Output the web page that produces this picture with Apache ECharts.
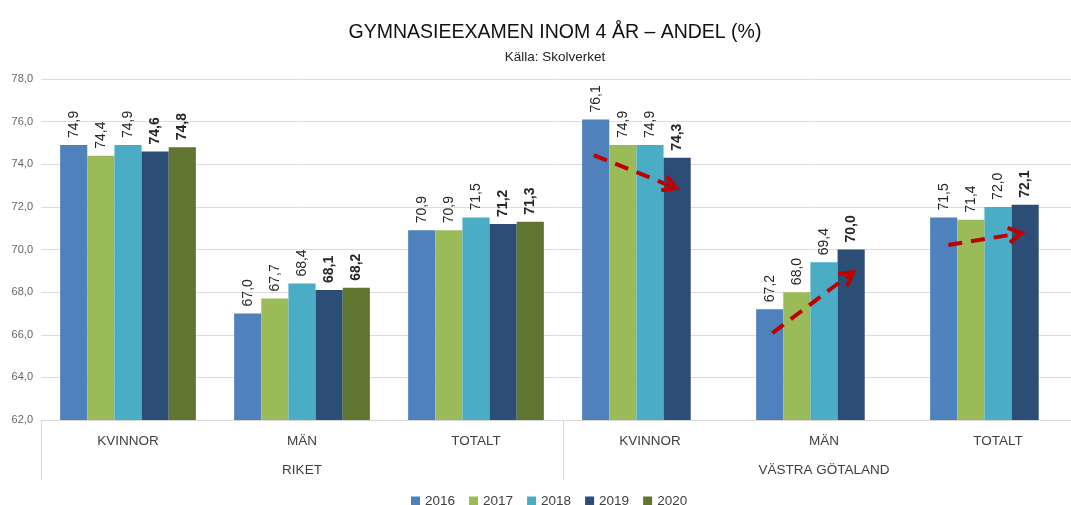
<!DOCTYPE html>
<html>
<head>
<meta charset="utf-8">
<script src="https://cdn.jsdelivr.net/npm/echarts@6/dist/echarts.min.js"></script>
<style>
  html, body { margin: 0; padding: 0; background: #fff; }
  #main { width: 1071px; height: 505px; }
</style>
</head>
<body>
<div id="main"></div>
<script>
// kategorier (två nivåer)
var categories = ['KVINNOR', 'MÄN', 'TOTALT', 'KVINNOR', 'MÄN', 'TOTALT'];
var groups = ['RIKET', 'VÄSTRA GÖTALAND'];
var years = ['2016', '2017', '2018', '2019', '2020'];

// andel (%) per år
var v2016 = [74.9, 67.0, 70.9, 76.1, 67.2, 71.5];
var v2017 = [74.4, 67.7, 70.9, 74.9, 68.0, 71.4];
var v2018 = [74.9, 68.4, 71.5, 74.9, 69.4, 72.0];
var v2019 = [74.6, 68.1, 71.2, 74.3, 70.0, 72.1];
var v2020 = [74.8, 68.2, 71.3, null, null, null];

var yTicks = [62, 64, 66, 68, 70, 72, 74, 76, 78];

// trendpilar: [kategori, startoffset (stapelbredder), startvärde, slutoffset, slutvärde]
var arrows = [
  [3, -2.07, 74.43, 0.96, 72.88],
  [4, -1.9, 66.08, 1.07, 68.94],
  [5, -1.83, 70.21, 0.87, 70.77]
];

var colors = ['#4f81bd', '#9bbb59', '#4bacc6', '#2c4d75', '#5f7530'];
var values = [v2016, v2017, v2018, v2019, v2020];

var fmt = function (v) { return v.toFixed(1).replace('.', ','); };

var myChart = echarts.init(document.getElementById('main'));

var series = years.map(function (y, i) {
  return {
    name: y,
    type: 'bar',
    barGap: 0,
    barCategoryGap: '22%',
    itemStyle: { color: colors[i] },
    label: {
      show: true,
      position: 'top',
      rotate: 90,
      align: 'left',
      verticalAlign: 'middle',
      distance: 7,
      fontFamily: 'Liberation Sans',
      fontSize: 14,
      fontWeight: i >= 3 ? 'bold' : 'normal',
      color: '#262626',
      formatter: function (p) { return p.value == null ? '' : fmt(p.value); }
    },
    data: values[i]
  };
});

var option = {
  backgroundColor: '#fff',
  animation: false,
  color: colors,
  title: [{
    text: 'GYMNASIEEXAMEN INOM 4 ÅR – ANDEL (%)',
    left: 550,
    top: 18,
    textAlign: 'center',
    textStyle: { fontFamily: 'Liberation Sans', fontSize: 19.5, fontWeight: 'normal', color: '#111' }
  }, {
    text: 'Källa: Skolverket',
    left: 550,
    top: 45,
    textAlign: 'center',
    textStyle: { fontFamily: 'Liberation Sans', fontSize: 13.5, fontWeight: 'normal', color: '#222' }
  }],
  legend: {
    data: years,
    left: 406,
    top: 489,
    itemWidth: 9,
    itemHeight: 9,
    itemGap: 14,
    icon: 'rect',
    textStyle: { fontFamily: 'Liberation Sans', fontSize: 13.5, color: '#404040' }
  },
  grid: { left: 41, right: -14, top: 79, bottom: 85, containLabel: false, outerBoundsMode: 'none' },
  xAxis: [{
    type: 'category',
    data: categories,
    position: 'bottom',
    axisLine: { lineStyle: { color: '#d9d9d9' } },
    axisTick: { show: false },
    axisLabel: { margin: 14, fontFamily: 'Liberation Sans', fontSize: 13.5, color: '#404040' }
  }, {
    type: 'category',
    data: groups,
    position: 'bottom',
    axisLine: { show: false },
    axisTick: { show: true, length: 60, lineStyle: { color: '#d9d9d9' } },
    axisLabel: { margin: 43, fontFamily: 'Liberation Sans', fontSize: 13.5, color: '#404040' }
  }],
  yAxis: {
    type: 'value',
    min: yTicks[0],
    max: yTicks[yTicks.length - 1],
    interval: 2,
    axisLine: { show: false },
    axisTick: { show: false },
    splitLine: { lineStyle: { color: '#dcdcdc' } },
    axisLabel: {
      margin: 8,
      fontFamily: 'Liberation Sans',
      fontSize: 11,
      color: '#666',
      formatter: fmt
    }
  },
  series: series
};

myChart.setOption(option);

// rita pilarna utifrån axlarnas skala
var c0 = myChart.convertToPixel({ xAxisIndex: 0, yAxisIndex: 0 }, [0, 70]);
var c1 = myChart.convertToPixel({ xAxisIndex: 0, yAxisIndex: 0 }, [1, 70]);
var barW = (c1[0] - c0[0]) * 0.78 / years.length;
var elements = [];
arrows.forEach(function (a) {
  var cs = myChart.convertToPixel({ xAxisIndex: 0, yAxisIndex: 0 }, [a[0], a[2]]);
  var ce = myChart.convertToPixel({ xAxisIndex: 0, yAxisIndex: 0 }, [a[0], a[4]]);
  var x1 = cs[0] + a[1] * barW, y1 = cs[1];
  var x2 = ce[0] + a[3] * barW, y2 = ce[1];
  var ang = Math.atan2(y2 - y1, x2 - x1);
  var hl = 15, ha = Math.PI / 6;
  elements.push({
    type: 'line',
    z: 100,
    shape: { x1: x1, y1: y1, x2: x2 - 4 * Math.cos(ang), y2: y2 - 4 * Math.sin(ang) },
    style: { stroke: '#c00000', lineWidth: 4, lineDash: [14, 9] }
  });
  elements.push({
    type: 'polyline',
    z: 100,
    shape: { points: [
      [x2 - hl * Math.cos(ang - ha), y2 - hl * Math.sin(ang - ha)],
      [x2, y2],
      [x2 - hl * Math.cos(ang + ha), y2 - hl * Math.sin(ang + ha)]
    ] },
    style: { stroke: '#c00000', lineWidth: 4, fill: null }
  });
});
myChart.setOption({ graphic: elements });

window.onresize = function () { myChart.resize(); };
</script>
</body>
</html>
